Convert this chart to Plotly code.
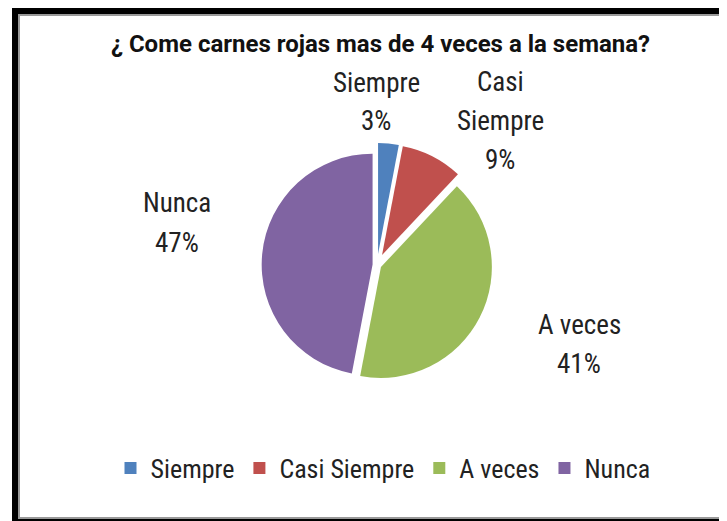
import plotly.graph_objects as go

categories = ["Siempre", "Casi Siempre", "A veces", "Nunca"]
values = [3, 9, 41, 47]
label_lines = [["Siempre"], ["Casi", "Siempre"], ["A veces"], ["Nunca"]]
colors = ["#4F81BD", "#C0504D", "#9BBB59", "#8064A2"]
title_text = "¿ Come carnes rojas mas de 4 veces a la semana?"

# page has an 8px body margin; figure coordinates = page coordinates - 8
OFF = 8
W, H = 727 - OFF, 521 - OFF
FONT = "Liberation Sans Narrow, Roboto Condensed, Open Sans"

# label block centres (page pixels) and line spacing
label_pos = [(376, 102), (500, 121), (579, 344), (177, 223)]
LINE = 39


def px(x):
    return (x - OFF) / W


def py(y):
    return 1 - (y - OFF) / H


fig = go.Figure()
fig.add_trace(go.Pie(
    labels=categories,
    values=values,
    textinfo="none",
    sort=False,
    direction="clockwise",
    rotation=0,
    pull=[0.1, 0.1, 0.04, 0.04],
    marker=dict(colors=colors, line=dict(width=0)),
    domain=dict(x=[px(377 - 122), px(377 + 122)], y=[py(387), py(143)]),
    showlegend=True,
    automargin=False,
    hoverinfo="label+percent",
))

total = sum(values)
annotations = [dict(text="<b>" + title_text + "</b>", x=px(380), y=py(44),
                    xref="paper", yref="paper", showarrow=False,
                    xanchor="center", yanchor="middle",
                    font=dict(size=24, color="#111111", family="Roboto"))]
for lines, v, (cx, cy) in zip(label_lines, values, label_pos):
    all_lines = lines + [f"{round(100 * v / total)}%"]
    n = len(all_lines)
    for i, t in enumerate(all_lines):
        yy = cy + (i - (n - 1) / 2) * LINE
        annotations.append(dict(text=t, x=px(cx), y=py(yy), xref="paper", yref="paper",
                                showarrow=False, xanchor="center", yanchor="middle",
                                font=dict(size=27, color="#222222", family=FONT)))

fig.update_layout(
    width=W, height=H,
    margin=dict(l=0, r=0, t=0, b=0),
    paper_bgcolor="white",
    font=dict(family=FONT, color="#222222"),
    legend=dict(orientation="h", x=px(383), xanchor="center", y=py(468), yanchor="middle",
                font=dict(size=26, color="#222222"), itemwidth=30, traceorder="normal"),
    annotations=annotations,
    shapes=[
        dict(type="rect", xref="paper", yref="paper", x0=px(12), x1=px(18), y0=py(521), y1=py(7),
             fillcolor="black", line=dict(width=0)),
        dict(type="rect", xref="paper", yref="paper", x0=px(12), x1=1, y0=py(14), y1=py(7),
             fillcolor="black", line=dict(width=0)),
        dict(type="rect", xref="paper", yref="paper", x0=px(12), x1=1, y0=py(521), y1=py(519),
             fillcolor="black", line=dict(width=0)),
        dict(type="rect", xref="paper", yref="paper", x0=px(18), x1=px(20), y0=py(517), y1=py(14),
             fillcolor="#999999", line=dict(width=0)),
        dict(type="rect", xref="paper", yref="paper", x0=px(18), x1=1, y0=py(16), y1=py(14),
             fillcolor="#999999", line=dict(width=0)),
        dict(type="rect", xref="paper", yref="paper", x0=px(18), x1=1, y0=py(519), y1=py(517),
             fillcolor="#999999", line=dict(width=0)),
    ],
)

fig.write_html("out.html")
